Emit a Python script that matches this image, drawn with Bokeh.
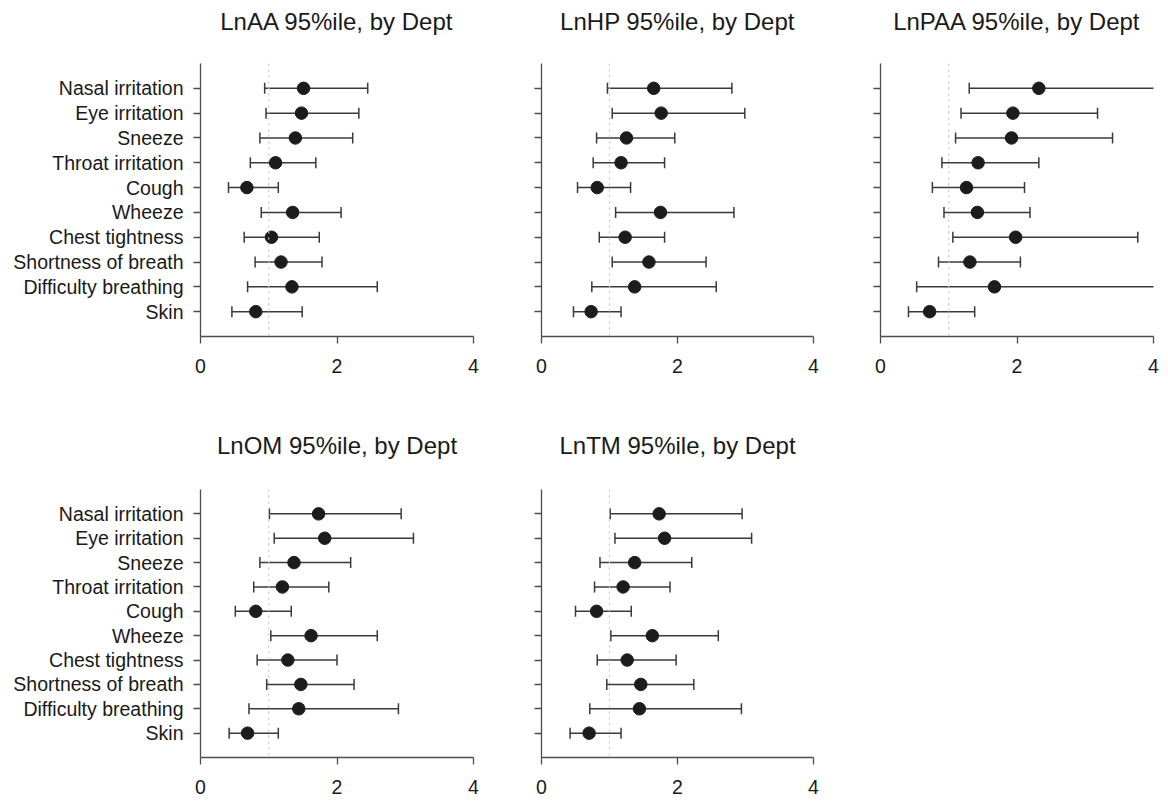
from bokeh.plotting import figure
from bokeh.models import ColumnDataSource, FactorRange, Range1d, Whisker, TeeHead, Span, FixedTicker, Title
from bokeh.layouts import column, row
from bokeh.embed import file_html
from bokeh.resources import INLINE

symptoms = ["Nasal irritation", "Eye irritation", "Sneeze", "Throat irritation", "Cough",
            "Wheeze", "Chest tightness", "Shortness of breath", "Difficulty breathing", "Skin"]

titles = ["LnAA 95%ile, by Dept", "LnHP 95%ile, by Dept", "LnPAA 95%ile, by Dept",
          "LnOM 95%ile, by Dept", "LnTM 95%ile, by Dept"]

aa_est = [1.51, 1.48, 1.39, 1.10, 0.68, 1.35, 1.04, 1.18, 1.34, 0.81]
aa_lo = [0.94, 0.96, 0.87, 0.73, 0.41, 0.89, 0.64, 0.80, 0.69, 0.46]
aa_hi = [2.45, 2.32, 2.23, 1.69, 1.14, 2.06, 1.74, 1.78, 2.59, 1.49]

hp_est = [1.65, 1.76, 1.25, 1.17, 0.82, 1.75, 1.23, 1.58, 1.37, 0.73]
hp_lo = [0.97, 1.04, 0.81, 0.76, 0.53, 1.09, 0.85, 1.04, 0.74, 0.47]
hp_hi = [2.80, 2.99, 1.96, 1.81, 1.31, 2.83, 1.81, 2.42, 2.57, 1.17]

paa_est = [2.32, 1.94, 1.92, 1.43, 1.26, 1.42, 1.98, 1.31, 1.67, 0.72]
paa_lo = [1.30, 1.18, 1.10, 0.90, 0.76, 0.93, 1.06, 0.85, 0.53, 0.41]
paa_hi = [4.30, 3.18, 3.40, 2.32, 2.11, 2.19, 3.77, 2.05, 4.40, 1.38]

om_est = [1.73, 1.82, 1.37, 1.20, 0.81, 1.62, 1.28, 1.47, 1.44, 0.69]
om_lo = [1.01, 1.08, 0.87, 0.78, 0.51, 1.03, 0.83, 0.97, 0.71, 0.42]
om_hi = [2.94, 3.12, 2.20, 1.88, 1.33, 2.59, 2.00, 2.25, 2.90, 1.14]

tm_est = [1.73, 1.81, 1.37, 1.20, 0.81, 1.63, 1.26, 1.46, 1.44, 0.70]
tm_lo = [1.01, 1.08, 0.86, 0.78, 0.50, 1.02, 0.82, 0.96, 0.71, 0.42]
tm_hi = [2.95, 3.09, 2.21, 1.89, 1.32, 2.60, 1.98, 2.24, 2.94, 1.17]

x_ticks = [0, 2, 4]

series = [(aa_est, aa_lo, aa_hi), (hp_est, hp_lo, hp_hi), (paa_est, paa_lo, paa_hi),
          (om_est, om_lo, om_hi), (tm_est, tm_lo, tm_hi)]

FONT = "Liberation Sans"
AXIS_COL = "#4d4d4d"
TEXT_COL = "#1a1a1a"


def make_panel(idx, show_labels, width, height, bl, br, bt, bb, title_gap):
    est, lo, hi = series[idx]
    p = figure(width=width, height=height, output_backend="svg", toolbar_location=None,
               x_range=Range1d(0, 4), y_range=FactorRange(factors=list(reversed(symptoms)),
                                                          range_padding=0.1),
               min_border_left=bl, min_border_right=br, min_border_top=bt, min_border_bottom=bb)
    p.title = Title(text=titles[idx], align="center", text_font=FONT, text_font_size="24px",
                    text_font_style="normal", text_color=TEXT_COL, standoff=0,
                    padding=dict(left=0, right=0, top=0, bottom=title_gap))
    p.outline_line_color = None
    p.xgrid.visible = False
    p.ygrid.visible = False
    p.background_fill_color = "white"
    p.border_fill_color = "white"

    src = ColumnDataSource(dict(sym=symptoms, est=est, lo=lo, hi=hi))
    p.add_layout(Span(location=1, dimension="height", line_color="#c8c8c8",
                      line_dash="dotted", line_width=1.2))
    w = Whisker(source=src, base="sym", lower="lo", upper="hi", dimension="width",
                line_color="#3a3a3a", line_width=1.5,
                lower_head=TeeHead(size=11, line_color="#3a3a3a", line_width=1.5),
                upper_head=TeeHead(size=11, line_color="#3a3a3a", line_width=1.5))
    p.add_layout(w)
    p.scatter("est", "sym", source=src, size=12.5, fill_color="#1c1c1c", line_color="#1c1c1c")

    p.xaxis.ticker = FixedTicker(ticks=x_ticks)
    for ax in (p.xaxis[0], p.yaxis[0]):
        ax.axis_line_color = AXIS_COL
        ax.axis_line_width = 1.3
        ax.major_tick_line_color = AXIS_COL
        ax.major_tick_line_width = 1.3
        ax.major_tick_out = 7
        ax.major_tick_in = 0
        ax.minor_tick_line_color = None
        ax.major_label_text_font = FONT
        ax.major_label_text_font_size = "19.5px"
        ax.major_label_text_color = TEXT_COL
    p.xaxis.major_label_standoff = 15
    p.yaxis.major_label_standoff = 10
    if not show_labels:
        p.yaxis.major_label_text_color = None
        p.yaxis.major_label_text_font_size = "1px"
        p.yaxis.major_label_standoff = 0
    return p


p1 = make_panel(0, True, 493, 429, 200, 20, 63, 93, 29)
p2 = make_panel(1, False, 340, 429, 48, 20, 63, 93, 29)
p3 = make_panel(2, False, 328, 429, 47, 8, 63, 93, 29)
p4 = make_panel(3, True, 493, 367, 200, 20, 59, 35, 31)
p5 = make_panel(4, False, 340, 367, 48, 20, 59, 35, 31)

layout = column(row(p1, p2, p3), row(p4, p5))

with open("out.html", "w") as f:
    f.write(file_html(layout, INLINE))
